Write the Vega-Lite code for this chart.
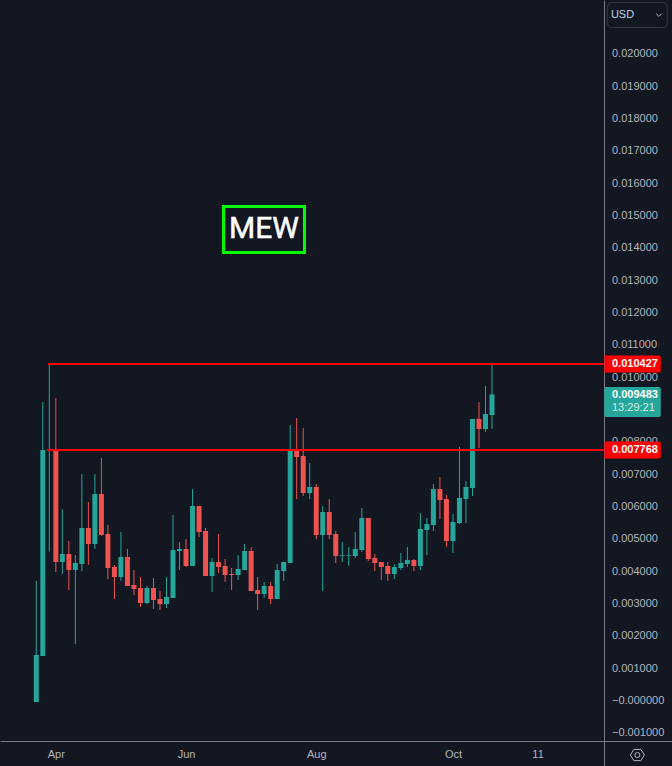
{
"$schema":"https://vega.github.io/schema/vega-lite/v6.json",
"width":672,"height":766,"padding":0,"autosize":"none","background":"#131722",
"config":{"view":{"stroke":null},"text":{"font":"Liberation Sans"},"axis":{"labelOverlap":false,"labelSeparation":0},"scale":{"continuousPadding":0}},
"datasets":{"candles":[
{"date":"2024-03-23","open":-0.000031,"high":0.003712,"low":-0.000031,"close":0.001423,"direction":"up"},
{"date":"2024-03-26","open":0.001392,"high":0.009248,"low":0.001392,"close":0.007764,"direction":"up"},
{"date":"2024-03-29","open":0.007754,"high":0.010427,"low":0.004619,"close":0.007784,"direction":"up"},
{"date":"2024-04-01","open":0.007795,"high":0.009372,"low":0.00399,"close":0.004299,"direction":"down"},
{"date":"2024-04-04","open":0.004299,"high":0.005939,"low":0.003928,"close":0.004547,"direction":"up"},
{"date":"2024-04-07","open":0.004547,"high":0.004949,"low":0.003433,"close":0.004052,"direction":"down"},
{"date":"2024-04-10","open":0.004052,"high":0.004516,"low":0.001763,"close":0.004269,"direction":"up"},
{"date":"2024-04-13","open":0.004238,"high":0.007021,"low":0.004021,"close":0.005351,"direction":"up"},
{"date":"2024-04-16","open":0.005351,"high":0.006155,"low":0.004207,"close":0.004856,"direction":"down"},
{"date":"2024-04-19","open":0.004856,"high":0.007021,"low":0.004702,"close":0.006403,"direction":"up"},
{"date":"2024-04-22","open":0.006403,"high":0.007516,"low":0.005104,"close":0.005135,"direction":"down"},
{"date":"2024-04-25","open":0.005166,"high":0.005444,"low":0.003774,"close":0.004114,"direction":"down"},
{"date":"2024-04-28","open":0.004145,"high":0.004207,"low":0.003155,"close":0.003835,"direction":"down"},
{"date":"2024-05-01","open":0.003835,"high":0.005227,"low":0.003712,"close":0.004454,"direction":"up"},
{"date":"2024-05-04","open":0.004454,"high":0.004702,"low":0.003557,"close":0.003557,"direction":"down"},
{"date":"2024-05-07","open":0.003588,"high":0.004052,"low":0.003279,"close":0.003464,"direction":"down"},
{"date":"2024-05-10","open":0.003495,"high":0.003835,"low":0.002908,"close":0.003031,"direction":"down"},
{"date":"2024-05-13","open":0.003031,"high":0.003557,"low":0.003,"close":0.003495,"direction":"up"},
{"date":"2024-05-16","open":0.003495,"high":0.003805,"low":0.002846,"close":0.003124,"direction":"down"},
{"date":"2024-05-19","open":0.003155,"high":0.003402,"low":0.002815,"close":0.003,"direction":"down"},
{"date":"2024-05-22","open":0.003,"high":0.003835,"low":0.002877,"close":0.003217,"direction":"up"},
{"date":"2024-05-25","open":0.003186,"high":0.005753,"low":0.003186,"close":0.004671,"direction":"up"},
{"date":"2024-05-28","open":0.00464,"high":0.004918,"low":0.004052,"close":0.004702,"direction":"up"},
{"date":"2024-05-31","open":0.004702,"high":0.005011,"low":0.004145,"close":0.004176,"direction":"down"},
{"date":"2024-06-03","open":0.004176,"high":0.006557,"low":0.004176,"close":0.006032,"direction":"up"},
{"date":"2024-06-06","open":0.006032,"high":0.006032,"low":0.005073,"close":0.005227,"direction":"down"},
{"date":"2024-06-09","open":0.005258,"high":0.005351,"low":0.003866,"close":0.003866,"direction":"down"},
{"date":"2024-06-12","open":0.003866,"high":0.004423,"low":0.003371,"close":0.004299,"direction":"up"},
{"date":"2024-06-15","open":0.004299,"high":0.005165,"low":0.003959,"close":0.004145,"direction":"down"},
{"date":"2024-06-18","open":0.004176,"high":0.004392,"low":0.003681,"close":0.003897,"direction":"down"},
{"date":"2024-06-21","open":0.003928,"high":0.004114,"low":0.003433,"close":0.003897,"direction":"down"},
{"date":"2024-06-24","open":0.003897,"high":0.004516,"low":0.003743,"close":0.004083,"direction":"up"},
{"date":"2024-06-27","open":0.004052,"high":0.004856,"low":0.004052,"close":0.00464,"direction":"up"},
{"date":"2024-06-30","open":0.00464,"high":0.004763,"low":0.003402,"close":0.003402,"direction":"down"},
{"date":"2024-07-03","open":0.003433,"high":0.003835,"low":0.002815,"close":0.00331,"direction":"down"},
{"date":"2024-07-06","open":0.00331,"high":0.003681,"low":0.003186,"close":0.003557,"direction":"up"},
{"date":"2024-07-09","open":0.003557,"high":0.003681,"low":0.003,"close":0.003155,"direction":"down"},
{"date":"2024-07-12","open":0.003155,"high":0.004238,"low":0.003155,"close":0.004052,"direction":"up"},
{"date":"2024-07-15","open":0.004021,"high":0.004299,"low":0.003712,"close":0.004299,"direction":"up"},
{"date":"2024-07-18","open":0.004269,"high":0.008537,"low":0.004269,"close":0.007733,"direction":"up"},
{"date":"2024-07-21","open":0.007733,"high":0.008753,"low":0.006248,"close":0.007547,"direction":"down"},
{"date":"2024-07-24","open":0.007578,"high":0.008444,"low":0.006341,"close":0.006434,"direction":"down"},
{"date":"2024-07-27","open":0.006434,"high":0.007362,"low":0.006248,"close":0.006619,"direction":"up"},
{"date":"2024-07-30","open":0.006619,"high":0.006712,"low":0.005011,"close":0.005135,"direction":"down"},
{"date":"2024-08-02","open":0.005135,"high":0.006032,"low":0.003402,"close":0.005846,"direction":"up"},
{"date":"2024-08-05","open":0.005846,"high":0.006248,"low":0.005011,"close":0.005135,"direction":"down"},
{"date":"2024-08-08","open":0.005165,"high":0.005258,"low":0.004269,"close":0.004485,"direction":"down"},
{"date":"2024-08-11","open":0.004495,"high":0.004918,"low":0.004299,"close":0.004516,"direction":"up"},
{"date":"2024-08-14","open":0.004495,"high":0.004763,"low":0.004176,"close":0.004516,"direction":"up"},
{"date":"2024-08-17","open":0.004485,"high":0.005227,"low":0.004423,"close":0.004702,"direction":"up"},
{"date":"2024-08-20","open":0.004671,"high":0.00597,"low":0.004609,"close":0.00566,"direction":"up"},
{"date":"2024-08-23","open":0.00566,"high":0.00566,"low":0.00433,"close":0.004392,"direction":"down"},
{"date":"2024-08-26","open":0.004423,"high":0.004547,"low":0.004021,"close":0.004269,"direction":"down"},
{"date":"2024-08-29","open":0.004299,"high":0.004299,"low":0.003743,"close":0.004145,"direction":"down"},
{"date":"2024-09-01","open":0.004176,"high":0.004299,"low":0.003712,"close":0.003928,"direction":"down"},
{"date":"2024-09-04","open":0.003928,"high":0.004238,"low":0.003774,"close":0.004145,"direction":"up"},
{"date":"2024-09-07","open":0.004114,"high":0.004578,"low":0.004052,"close":0.004269,"direction":"up"},
{"date":"2024-09-10","open":0.004238,"high":0.004763,"low":0.004145,"close":0.004361,"direction":"up"},
{"date":"2024-09-13","open":0.004361,"high":0.004392,"low":0.004021,"close":0.004176,"direction":"down"},
{"date":"2024-09-16","open":0.004176,"high":0.005815,"low":0.004052,"close":0.00532,"direction":"up"},
{"date":"2024-09-19","open":0.005289,"high":0.00566,"low":0.004516,"close":0.005475,"direction":"up"},
{"date":"2024-09-22","open":0.005444,"high":0.006712,"low":0.005258,"close":0.006557,"direction":"up"},
{"date":"2024-09-25","open":0.006557,"high":0.006929,"low":0.00563,"close":0.006217,"direction":"down"},
{"date":"2024-09-28","open":0.006248,"high":0.006372,"low":0.004763,"close":0.004949,"direction":"down"},
{"date":"2024-10-01","open":0.004949,"high":0.005784,"low":0.004578,"close":0.005537,"direction":"up"},
{"date":"2024-10-04","open":0.005506,"high":0.007857,"low":0.005475,"close":0.006279,"direction":"up"},
{"date":"2024-10-07","open":0.006248,"high":0.006805,"low":0.005506,"close":0.006619,"direction":"up"},
{"date":"2024-10-10","open":0.006588,"high":0.008723,"low":0.006341,"close":0.008723,"direction":"up"},
{"date":"2024-10-13","open":0.008723,"high":0.009248,"low":0.007825,"close":0.008413,"direction":"down"},
{"date":"2024-10-16","open":0.008413,"high":0.009743,"low":0.00832,"close":0.008877,"direction":"up"},
{"date":"2024-10-19","open":0.008846,"high":0.010427,"low":0.008413,"close":0.009483,"direction":"up"}
],
"levels":[{"price":0.010427,"label":"0.010427"},{"price":0.007768,"label":"0.007768"}],
"priceTicks":[{"price":0.02,"label":"0.020000"},{"price":0.019,"label":"0.019000"},{"price":0.018,"label":"0.018000"},{"price":0.017,"label":"0.017000"},{"price":0.016,"label":"0.016000"},{"price":0.015,"label":"0.015000"},{"price":0.014,"label":"0.014000"},{"price":0.013,"label":"0.013000"},{"price":0.012,"label":"0.012000"},{"price":0.011,"label":"0.011000"},{"price":0.01,"label":"0.010000"},{"price":0.008,"label":"0.008000"},{"price":0.007,"label":"0.007000"},{"price":0.006,"label":"0.006000"},{"price":0.005,"label":"0.005000"},{"price":0.004,"label":"0.004000"},{"price":0.003,"label":"0.003000"},{"price":0.002,"label":"0.002000"},{"price":0.001,"label":"0.001000"},{"price":0,"label":"−0.000000"},{"price":-0.001,"label":"−0.001000"}]},
"layer":[
{"data":{"name":"candles"},"mark":{"type":"rule","strokeWidth":1},
 "encoding":{
  "x":{"field":"date","type":"temporal","title":null,
   "scale":{"type":"utc","domain":[1709706600000,1736462880000],"nice":false},
   "axis":{"orient":"bottom","offset":-25,"values":[1711929600000,1717113600000,1722297600000,1727740800000,1731110400000],
    "labelExpr":"utcmonth(datum.value)==3?'Apr':utcmonth(datum.value)==4?'Jun':utcmonth(datum.value)==6?'Aug':utcmonth(datum.value)==9?'Oct':'11'",
    "grid":false,"ticks":false,"labelFont":"Liberation Sans","labelFontSize":11,"labelColor":"#b2b5be","labelPadding":7,"domainColor":"#787b86","domainWidth":1,"labelFlush":false,"labelOverlap":false}},
  "y":{"field":"low","type":"quantitative","title":null,
   "scale":{"domain":[-0.00201,0.021683],"nice":false,"zero":false},
   "axis":{"orient":"left","offset":-604,"values":[],"labels":false,"grid":false,"ticks":false,"domainColor":"#787b86","domainWidth":1}},
  "y2":{"field":"high"},
  "color":{"field":"direction","type":"nominal","legend":null,"scale":{"domain":["up","down"],"range":["#26a69a","#ef5350"]}}
 }},
{"data":{"name":"candles"},"mark":{"type":"bar","size":5},
 "encoding":{
  "x":{"field":"date","type":"temporal","title":null,"scale":{"type":"utc","domain":[1709706600000,1736462880000],"nice":false}},
  "y":{"field":"open","type":"quantitative","title":null,"scale":{"domain":[-0.00201,0.021683],"nice":false,"zero":false}},
  "y2":{"field":"close"},
  "color":{"field":"direction","type":"nominal","legend":null}
 }},
{"data":{"name":"priceTicks"},"mark":{"type":"text","align":"left","baseline":"middle","fontSize":11,"color":"#b2b5be"},
 "encoding":{
  "x":{"datum":{"year":2024,"month":12,"date":13,"hours":7,"utc":true},"type":"temporal","title":null,"scale":{"type":"utc","domain":[1709706600000,1736462880000],"nice":false}},
  "y":{"field":"price","type":"quantitative","title":null,"scale":{"domain":[-0.00201,0.021683],"nice":false,"zero":false}},
  "text":{"field":"label"}
 }},
{"data":{"name":"levels"},"mark":{"type":"rule","color":"#ff0000","strokeWidth":2},
 "encoding":{
  "x":{"datum":{"year":2024,"month":3,"date":28,"hours":10,"utc":true},"type":"temporal","title":null,"scale":{"type":"utc","domain":[1709706600000,1736462880000],"nice":false}},
  "x2":{"datum":{"year":2024,"month":12,"date":9,"hours":14,"utc":true}},
  "y":{"field":"price","type":"quantitative","title":null,"scale":{"domain":[-0.00201,0.021683],"nice":false,"zero":false}}
 }},
{"data":{"name":"levels"},"mark":{"type":"bar","orient":"horizontal","color":"#ff0000","size":17,"cornerRadiusTopRight":2,"cornerRadiusBottomRight":2},
 "encoding":{
  "x":{"datum":{"year":2024,"month":12,"date":9,"hours":19,"utc":true},"type":"temporal","title":null,"scale":{"type":"utc","domain":[1709706600000,1736462880000],"nice":false}},
  "x2":{"datum":{"year":2025,"month":1,"date":4,"hours":19,"utc":true}},
  "y":{"field":"price","type":"quantitative","title":null,"scale":{"domain":[-0.00201,0.021683],"nice":false,"zero":false}}
 }},
{"data":{"name":"levels"},"mark":{"type":"text","align":"left","baseline":"middle","color":"#ffffff","fontSize":11,"fontWeight":"bold"},
 "encoding":{
  "x":{"datum":{"year":2024,"month":12,"date":13,"hours":7,"utc":true},"type":"temporal","title":null,"scale":{"type":"utc","domain":[1709706600000,1736462880000],"nice":false}},
  "y":{"field":"price","type":"quantitative","title":null,"scale":{"domain":[-0.00201,0.021683],"nice":false,"zero":false}},
  "text":{"field":"label"}
 }},
{"data":{"values":[{"label":"current"}]},"mark":{"type":"rect","color":"#26a69a","cornerRadius":2},
 "encoding":{
  "x":{"datum":{"year":2024,"month":12,"date":9,"hours":19,"utc":true},"type":"temporal","title":null,"scale":{"type":"utc","domain":[1709706600000,1736462880000],"nice":false}},
  "x2":{"datum":{"year":2025,"month":1,"date":4,"hours":19,"utc":true}},
  "y":{"datum":0.009712,"type":"quantitative","title":null,"scale":{"domain":[-0.00201,0.021683],"nice":false,"zero":false}},
  "y2":{"datum":0.008784}
 }},
{"data":{"values":[{"label":"0.009483","price":0.00945}]},"mark":{"type":"text","align":"left","baseline":"middle","fontSize":11,"fontWeight":"bold","color":"#ffffff"},
 "encoding":{
  "x":{"datum":{"year":2024,"month":12,"date":13,"hours":7,"utc":true},"type":"temporal","title":null,"scale":{"type":"utc","domain":[1709706600000,1736462880000],"nice":false}},
  "y":{"field":"price","type":"quantitative","title":null,"scale":{"domain":[-0.00201,0.021683],"nice":false,"zero":false}},
  "text":{"field":"label"}
 }},
{"data":{"values":[{"label":"13:29:21","price":0.00905}]},"mark":{"type":"text","align":"left","baseline":"middle","fontSize":11,"color":"#d4eeea"},
 "encoding":{
  "x":{"datum":{"year":2024,"month":12,"date":13,"hours":7,"utc":true},"type":"temporal","title":null,"scale":{"type":"utc","domain":[1709706600000,1736462880000],"nice":false}},
  "y":{"field":"price","type":"quantitative","title":null,"scale":{"domain":[-0.00201,0.021683],"nice":false,"zero":false}},
  "text":{"field":"label"}
 }},
{"data":{"values":[{"label":"USD"}]},"mark":{"type":"rect","fillOpacity":0,"stroke":"#363a45","strokeWidth":1,"cornerRadius":4},
 "encoding":{
  "x":{"datum":{"year":2024,"month":12,"date":11,"hours":7,"utc":true},"type":"temporal","title":null,"scale":{"type":"utc","domain":[1709706600000,1736462880000],"nice":false}},
  "x2":{"datum":{"year":2025,"month":1,"date":7,"hours":17,"utc":true}},
  "y":{"datum":0.021605,"type":"quantitative","title":null,"scale":{"domain":[-0.00201,0.021683],"nice":false,"zero":false}},
  "y2":{"datum":0.020832}
 }},
{"data":{"values":[{"label":"USD"}]},"mark":{"type":"text","align":"left","baseline":"middle","fontSize":11,"color":"#b8cfe8"},
 "encoding":{
  "x":{"datum":{"year":2024,"month":12,"date":12,"hours":19,"utc":true},"type":"temporal","title":null,"scale":{"type":"utc","domain":[1709706600000,1736462880000],"nice":false}},
  "y":{"datum":0.021219,"type":"quantitative","title":null,"scale":{"domain":[-0.00201,0.021683],"nice":false,"zero":false}},
  "text":{"field":"label"}
 }},
{"data":{"values":[{"label":"menu"}]},"mark":{"type":"point","shape":"M -1 -0.5 L 0 0.5 L 1 -0.5","size":30,"filled":false,"stroke":"#b2b5be","strokeWidth":1,"opacity":1},
 "encoding":{
  "x":{"datum":{"year":2025,"month":1,"date":3,"hours":22,"utc":true},"type":"temporal","title":null,"scale":{"type":"utc","domain":[1709706600000,1736462880000],"nice":false}},
  "y":{"datum":0.021219,"type":"quantitative","title":null,"scale":{"domain":[-0.00201,0.021683],"nice":false,"zero":false}}
 }},
{"data":{"values":[{"label":"settings"}]},"mark":{"type":"point","shape":"M -1 0 L -0.5 -0.8 L 0.5 -0.8 L 1 0 L 0.5 0.8 L -0.5 0.8 Z","size":196,"filled":false,"stroke":"#b2b5be","strokeWidth":1,"opacity":1},
 "encoding":{
  "x":{"datum":{"year":2024,"month":12,"date":25,"utc":true},"type":"temporal","title":null,"scale":{"type":"utc","domain":[1709706600000,1736462880000],"nice":false}},
  "y":{"datum":-0.00167,"type":"quantitative","title":null,"scale":{"domain":[-0.00201,0.021683],"nice":false,"zero":false}}
 }},
{"data":{"values":[{"label":"settings"}]},"mark":{"type":"point","shape":"circle","size":25,"filled":false,"stroke":"#b2b5be","strokeWidth":1,"opacity":1},
 "encoding":{
  "x":{"datum":{"year":2024,"month":12,"date":25,"utc":true},"type":"temporal","title":null,"scale":{"type":"utc","domain":[1709706600000,1736462880000],"nice":false}},
  "y":{"datum":-0.00167,"type":"quantitative","title":null,"scale":{"domain":[-0.00201,0.021683],"nice":false,"zero":false}}
 }},
{"data":{"values":[{"label":"MEW"}]},"mark":{"type":"rect","fillOpacity":0,"stroke":"#00ff00","strokeWidth":3},
 "encoding":{
  "x":{"datum":{"year":2024,"month":6,"date":17,"hours":7,"utc":true},"type":"temporal","title":null,"scale":{"type":"utc","domain":[1709706600000,1736462880000],"nice":false}},
  "x2":{"datum":{"year":2024,"month":7,"date":24,"hours":14,"utc":true}},
  "y":{"datum":0.015295,"type":"quantitative","title":null,"scale":{"domain":[-0.00201,0.021683],"nice":false,"zero":false}},
  "y2":{"datum":0.013872}
 }},
{"data":{"values":[{"label":"MEW"}]},"mark":{"type":"text","align":"center","baseline":"middle","font":"Roboto","fontSize":30,"fontWeight":"normal","stroke":"#ffffff","strokeWidth":0.5,"color":"#ffffff"},
 "encoding":{
  "x":{"datum":{"year":2024,"month":7,"date":5,"hours":22,"utc":true},"type":"temporal","title":null,"scale":{"type":"utc","domain":[1709706600000,1736462880000],"nice":false}},
  "y":{"datum":0.014615,"type":"quantitative","title":null,"scale":{"domain":[-0.00201,0.021683],"nice":false,"zero":false}},
  "text":{"field":"label"}
 }}
]}
